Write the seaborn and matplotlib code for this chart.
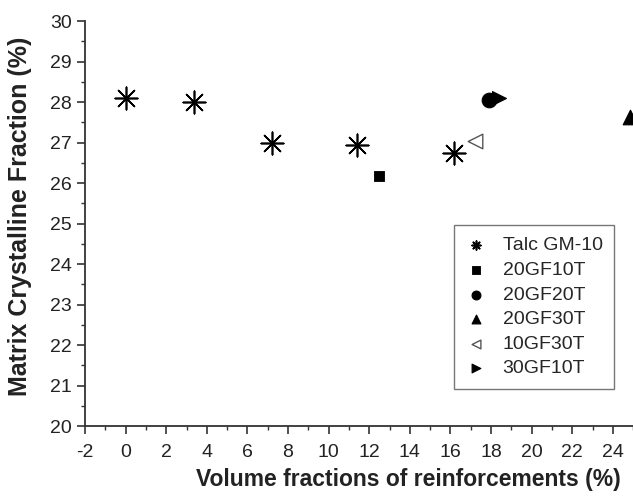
import matplotlib
matplotlib.use("Agg")
import matplotlib.pyplot as plt
from matplotlib.ticker import MultipleLocator
import seaborn as sns

# data
talc_x = [0.0, 3.35, 7.2, 11.4, 16.15]
talc_y = [28.1, 28.0, 26.98, 26.95, 26.75]
gf20t10_x = [12.5]
gf20t10_y = [26.17]
gf20t20_x = [17.9]
gf20t20_y = [28.06]
gf20t30_x = [24.85]
gf20t30_y = [27.62]
gf10t30_x = [17.2]
gf10t30_y = [27.03]
gf30t10_x = [18.4]
gf30t10_y = [28.1]

sns.set_style("ticks")
plt.rcParams['font.family'] = ['Liberation Sans', 'DejaVu Sans']
plt.rcParams['axes.unicode_minus'] = False

fig = plt.figure(figsize=(6.33, 4.96), dpi=100)
ax = fig.add_axes([0.1343, 0.1411, 0.866, 0.8165])

asterisk = (8, 2, 0)
sns.scatterplot(x=talc_x, y=talc_y, marker=asterisk, s=260, color='black',
                linewidth=1.2, ax=ax, label='Talc GM-10')
sns.scatterplot(x=gf20t10_x, y=gf20t10_y, marker='s', s=60, color='black',
                edgecolor='black', ax=ax, label='20GF10T')
sns.scatterplot(x=gf20t20_x, y=gf20t20_y, marker='o', s=110, color='black',
                edgecolor='black', ax=ax, label='20GF20T')
sns.scatterplot(x=gf20t30_x, y=gf20t30_y, marker='^', s=110, color='black',
                edgecolor='black', ax=ax, label='20GF30T')
sns.scatterplot(x=gf10t30_x, y=gf10t30_y, marker='<', s=110, facecolor='white',
                edgecolor='#555555', linewidth=1.0, ax=ax, label='10GF30T')
sns.scatterplot(x=gf30t10_x, y=gf30t10_y, marker='>', s=100, color='black',
                edgecolor='black', ax=ax, label='30GF10T')

ax.set_xlim(-2, 25)
ax.set_ylim(20, 30)
ax.xaxis.set_major_locator(MultipleLocator(2))
ax.xaxis.set_minor_locator(MultipleLocator(1))
ax.yaxis.set_major_locator(MultipleLocator(1))
ax.yaxis.set_minor_locator(MultipleLocator(0.5))
ax.tick_params(which='major', length=6, width=1.2, color='#333333',
               labelsize=14, labelcolor='#222222')
ax.tick_params(which='minor', length=3, width=1.0, color='#333333')
ax.tick_params(axis='x', which='major', pad=7)
ax.tick_params(axis='y', which='major', pad=3.5)
sns.despine(ax=ax)
for side in ['left', 'bottom']:
    ax.spines[side].set_linewidth(1.3)
    ax.spines[side].set_color('#333333')

ax.set_xlabel('Volume fractions of reinforcements (%)', fontsize=16.5,
              fontweight='bold', color='#222222', va='center')
ax.set_ylabel('Matrix Crystalline Fraction (%)', fontsize=18,
              fontweight='bold', color='#222222', va='center')
ax.xaxis.set_label_coords(0.589, -0.133)
ax.yaxis.set_label_coords(-0.1186, 0.519)

leg = ax.legend(loc='upper left', bbox_to_anchor=(0.673, 0.496), fontsize=14,
                frameon=True, fancybox=False, edgecolor='#555555',
                labelspacing=0.36, handletextpad=0.8, borderpad=0.6,
                handlelength=1.1, borderaxespad=0)
leg.get_frame().set_linewidth(1.0)
for h in leg.legend_handles:
    h.set_sizes([40])

fig.savefig('out.png', dpi=100)
